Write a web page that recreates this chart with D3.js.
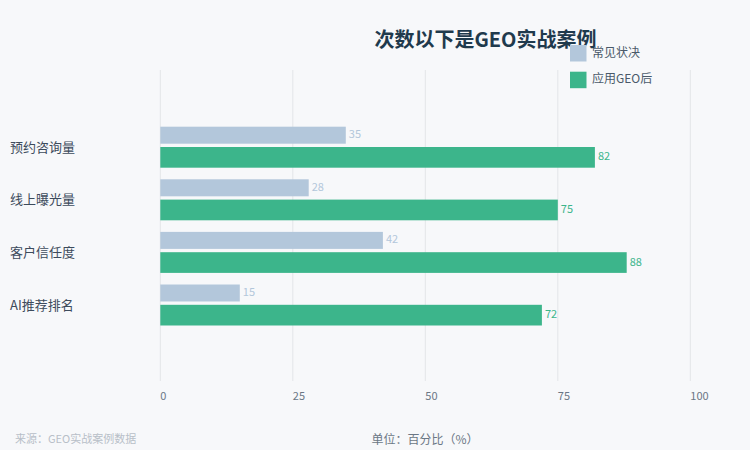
<!DOCTYPE html>
<html><head><meta charset="utf-8">
<script src="https://cdn.jsdelivr.net/npm/d3@7"></script>
<style>
html,body{margin:0;padding:0;background:#f7f8fa;}
svg{display:block;font-family:"Noto Sans CJK SC","Noto Sans",sans-serif;}
</style></head>
<body>
<svg id="chart" width="750" height="450"></svg>
<script>
const categories = ["预约咨询量", "线上曝光量", "客户信任度", "AI推荐排名"];
const seriesNames = ["常见状决", "应用GEO后"];
const beforeValues = [35, 28, 42, 15];
const afterValues = [82, 75, 88, 72];
const xTicks = [0, 25, 50, 75, 100];
const titleText = "次数以下是GEO实战案例";
const sourceText = "来源：GEO实战案例数据";
const unitText = "单位：百分比（%）";

const colors = ["#b3c7db", "#3cb58b"];
const labelColors = ["#b3c7db", "#3cb58b"];

const svg = d3.select("#chart");
svg.append("rect").attr("width", 750).attr("height", 450).attr("fill", "#f7f8fa");

const x = d3.scaleLinear().domain([0, 100]).range([160.3, 690.3]);
const y = d3.scaleBand().domain(categories).range([120.9, 331.3]).padding(0);

// gridlines
svg.append("g").selectAll("line").data(xTicks).join("line")
  .attr("x1", d => x(d)).attr("x2", d => x(d))
  .attr("y1", 70).attr("y2", 381)
  .attr("stroke", "#e3e5e8").attr("stroke-width", 1);

// tick labels
svg.append("g").selectAll("text").data(xTicks).join("text")
  .attr("x", d => x(d)).attr("y", 400)
  .attr("text-anchor", "start")
  .attr("font-size", 11).attr("fill", "#6b7785")
  .text(d => d);

// category labels
svg.append("g").selectAll("text").data(categories).join("text")
  .attr("x", 10).attr("y", d => y(d) + y.bandwidth() / 2 + 1)
  .attr("dominant-baseline", "middle")
  .attr("font-size", 13).attr("fill", "#3d4b5c")
  .text(d => d);

const rows = categories.map((c, i) => ({c, b: beforeValues[i], a: afterValues[i]}));

// before bars
svg.append("g").selectAll("rect").data(rows).join("rect")
  .attr("x", x(0)).attr("y", d => y(d.c) + 5.8)
  .attr("width", d => x(d.b) - x(0)).attr("height", 17)
  .attr("fill", colors[0]);
// after bars
svg.append("g").selectAll("rect").data(rows).join("rect")
  .attr("x", x(0)).attr("y", d => y(d.c) + 26.1)
  .attr("width", d => x(d.a) - x(0)).attr("height", 20.7)
  .attr("fill", colors[1]);

// value labels
svg.append("g").selectAll("text").data(rows).join("text")
  .attr("x", d => x(d.b) + 3).attr("y", d => y(d.c) + 5.8 + 8.5)
  .attr("dominant-baseline", "middle")
  .attr("font-size", 11).attr("fill", labelColors[0])
  .text(d => d.b);
svg.append("g").selectAll("text").data(rows).join("text")
  .attr("x", d => x(d.a) + 3).attr("y", d => y(d.c) + 26.1 + 10.4)
  .attr("dominant-baseline", "middle")
  .attr("font-size", 11).attr("fill", labelColors[1])
  .text(d => d.a);

// title
svg.append("text").attr("x", 485.5).attr("y", 47)
  .attr("text-anchor", "middle")
  .attr("font-size", 20).attr("font-weight", "bold").attr("fill", "#1f3a4d")
  .text(titleText);

// legend
const lg = svg.append("g").selectAll("g").data(seriesNames).join("g")
  .attr("transform", (d, i) => `translate(570,${45 + i * 26.7})`);
lg.append("rect").attr("width", 16.5).attr("height", 16.5).attr("fill", (d, i) => colors[i]);
lg.append("text").attr("x", 22).attr("y", 8.5)
  .attr("dominant-baseline", "middle")
  .attr("font-size", 12).attr("fill", "#4a5a6a")
  .text(d => d);

// footer
svg.append("text").attr("x", 15).attr("y", 443)
  .attr("font-size", 11).attr("fill", "#b8bfc8")
  .text(sourceText);
svg.append("text").attr("x", 425).attr("y", 444)
  .attr("text-anchor", "middle")
  .attr("font-size", 12).attr("fill", "#6b7785")
  .text(unitText);
</script>
</body></html>
